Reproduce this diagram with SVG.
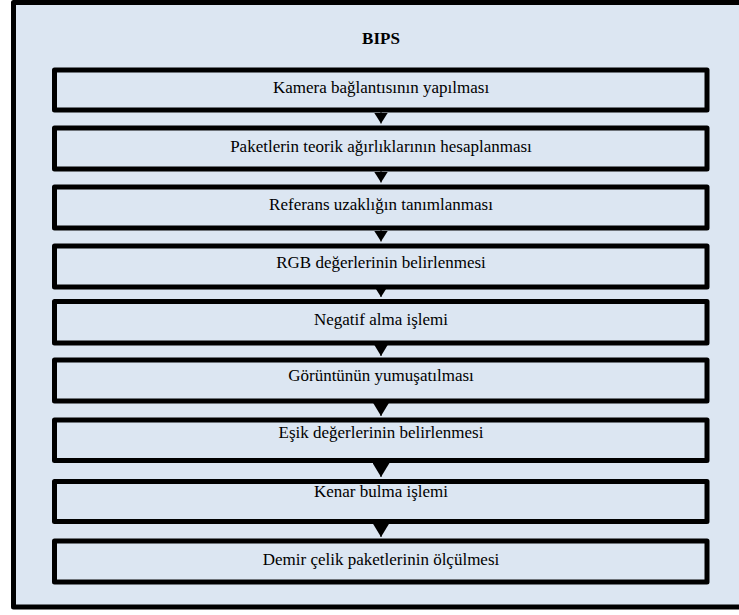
<svg xmlns="http://www.w3.org/2000/svg" width="739" height="615" viewBox="0 0 739 615">
<style>
.frame{fill:#DCE6F2;stroke:#000;stroke-width:5;stroke-linejoin:round}
.box{fill:#DCE6F2;stroke:#000;stroke-width:5;stroke-linejoin:round}
.t{font-size:17px;fill:#000;text-anchor:middle}
.title{font-weight:bold}
.c{stroke:#000;stroke-width:1;fill:none}
</style>
<defs>
<marker id="aS" markerUnits="userSpaceOnUse" viewBox="0 0 11 14" refX="11" refY="7" markerWidth="11" markerHeight="14" orient="auto"><path d="M0,0 L11,7 L0,14 z" fill="#000"/></marker>
<marker id="aL" markerUnits="userSpaceOnUse" viewBox="0 0 14 17" refX="14" refY="8.5" markerWidth="14" markerHeight="17" orient="auto"><path d="M0,0 L14,8.5 L0,17 z" fill="#000"/></marker>
</defs>
<rect class="frame" x="13.5" y="2.5" width="740" height="604.5"/>
<g font-family="'Liberation Serif', 'DejaVu Serif', 'Times New Roman', serif">
<text class="t title" x="381" y="44">BIPS</text>
<g id="n1"><rect class="box" x="54.5" y="70" width="652.5" height="40"/><text class="t" x="381" y="93">Kamera bağlantısının yapılması</text></g>
<g id="n2"><rect class="box" x="54.5" y="128" width="652.5" height="41"/><text class="t" x="381" y="152">Paketlerin teorik ağırlıklarının hesaplanması</text></g>
<g id="n3"><rect class="box" x="54.5" y="187" width="652.5" height="41"/><text class="t" x="381" y="210">Referans uzaklığın tanımlanması</text></g>
<g id="n4"><rect class="box" x="54.5" y="246" width="652.5" height="41"/><text class="t" x="381" y="268">RGB değerlerinin belirlenmesi</text></g>
<g id="n5"><rect class="box" x="54.5" y="301.5" width="652.5" height="41.5"/><text class="t" x="381" y="325">Negatif alma işlemi</text></g>
<g id="n6"><rect class="box" x="54.5" y="360" width="652.5" height="41"/><text class="t" x="381" y="381">Görüntünün yumuşatılması</text></g>
<g id="n7"><rect class="box" x="54.5" y="420" width="652.5" height="40.5"/><text class="t" x="381" y="438">Eşik değerlerinin belirlenmesi</text></g>
<g id="n8"><rect class="box" x="54.5" y="481.5" width="652.5" height="40"/><text class="t" x="381" y="497">Kenar bulma işlemi</text></g>
<g id="n9"><rect class="box" x="54.5" y="541" width="652.5" height="41"/><text class="t" x="381" y="565">Demir çelik paketlerinin ölçülmesi</text></g>
</g>
<g id="connectors">
<line class="c" x1="381" y1="110" x2="381" y2="123.5" marker-end="url(#aS)"/>
<line class="c" x1="381" y1="169" x2="381" y2="182.5" marker-end="url(#aS)"/>
<line class="c" x1="381" y1="228" x2="381" y2="241.5" marker-end="url(#aS)"/>
<line class="c" x1="381" y1="287" x2="381" y2="297" marker-end="url(#aS)"/>
<line class="c" x1="381" y1="341" x2="381" y2="356" marker-end="url(#aL)"/>
<line class="c" x1="381" y1="399" x2="381" y2="416" marker-end="url(#aL)"/>
<line class="c" x1="381" y1="458" x2="381" y2="477" marker-end="url(#aL)"/>
<line class="c" x1="381" y1="519" x2="381" y2="537" marker-end="url(#aL)"/>
</g>
</svg>
